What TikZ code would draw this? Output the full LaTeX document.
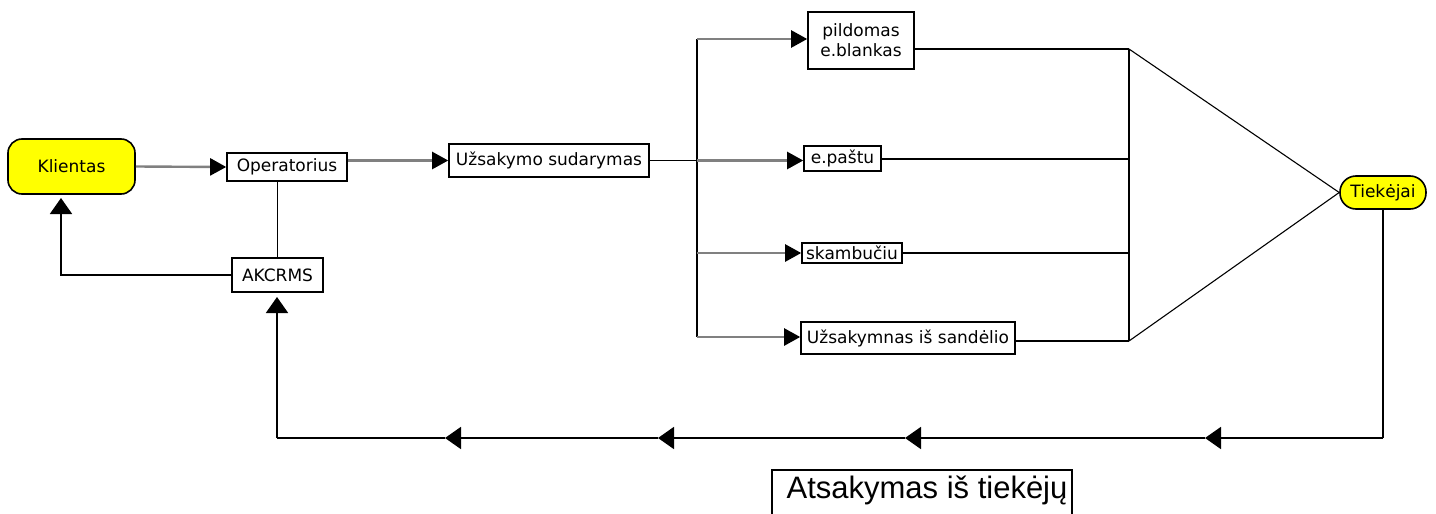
\documentclass[tikz,border=0pt]{standalone}
\usepackage{fontspec}
\setmainfont{DejaVu Sans}
\newfontfamily\titlefont{Liberation Sans}
\usetikzlibrary{arrows.meta}
\definecolor{boxyellow}{RGB}{255,255,0}
\definecolor{linegray}{RGB}{128,128,128}
\tikzset{
  box/.style={draw=black, line width=1.6pt, fill=white, inner sep=0pt,
              font=\fontsize{17}{20}\selectfont, align=center},
  actor/.style={box, fill=boxyellow},
  wire/.style={draw=black, line width=1.8pt},
  feed/.style={draw=linegray, line width=2.4pt},
  tipR/.style={-{Triangle[length=16pt,width=17pt,color=black,fill=black]}},
  tipV/.style={-{Triangle[length=16pt,width=22pt,color=black,fill=black]}},
  fan/.style={draw=black, line width=1.1pt},
}
\begin{document}
\begin{tikzpicture}[x=1pt,y=-1pt]
\useasboundingbox (0,0) rectangle (1436,514);

% participants and steps
\node[actor, rounded corners=14pt, minimum width=127pt, minimum height=55pt] (kl) at (71.5,166.5) {Klientas};
\node[box, minimum width=120pt, minimum height=28pt] (op) at (287,167) {Operatorius};
\node[box, minimum width=91pt, minimum height=34pt] (ak) at (277.5,275) {AKCRMS};
\node[box, minimum width=200pt, minimum height=33pt] (us) at (549,160.5) {Užsakymo sudarymas};
\node[box, minimum width=106pt, minimum height=57pt, font=\fontsize{17}{20}\selectfont] (pb) at (861,40.5) {pildomas\\e.blankas};
\node[box, minimum width=77pt, minimum height=25pt] (ep) at (842.5,158.5) {e.paštu};
\node[box, minimum width=100pt, minimum height=20pt] (sk) at (852,253) {skambučiu};
\node[box, minimum width=214pt, minimum height=32pt] (sa) at (908,338) {Užsakymnas iš sandėlio};
\node[actor, rounded corners=16pt, minimum width=86pt, minimum height=33pt] (tk) at (1383,192.5) {Tiekėjai};

% caption box, open at the lower edge of the page
\draw[line width=1.6pt] (772,530) -- (772,470) -- (1072,470) -- (1072,530);
\node[anchor=base, inner sep=0pt, font=\titlefont\fontsize{31}{36}\selectfont] (ats) at (927,498) {Atsakymas iš tiekėjų};

% client side
\draw[feed, tipR] (kl.east) -- (op.west);
\draw[wire] (op.south -| ak.north) -- (ak.north);
\coordinate (kup) at (61,198);
\draw[wire, tipV] (ak.west) -| (kup);
\draw[feed, tipR] (us.west -| op.east) -- (us.west);

% distribution bus
\coordinate (bt) at (697,39);
\coordinate (bm) at (697,160.5);
\coordinate (bs) at (697,253);
\coordinate (bb) at (697,337);
\draw[wire] (us.east) -- (bm);
\draw[wire] (bt) -- (bb);
\draw[feed, tipR] (bt) -- (bt -| pb.west);
\draw[feed, tipR] (bm) -- (bm -| ep.west);
\draw[feed, tipR] (bs) -- (sk.west);
\draw[feed, tipR] (bb) -- (bb -| sa.west);

% collector towards suppliers
\coordinate (ct) at (1129,49);
\coordinate (cm) at (1129,159);
\coordinate (cs) at (1129,253);
\coordinate (cb) at (1129,341);
\draw[wire] (pb.east |- ct) -- (ct);
\draw[wire] (ep.east |- cm) -- (cm);
\draw[wire] (sk.east) -- (cs);
\draw[wire] (sa.east |- cb) -- (cb);
\draw[wire] (ct) -- (cb);
\draw[fan] (ct) -- (tk.west);
\draw[fan] (cb) -- (tk.west);

% reply path
\coordinate (rc) at (1383,438);
\coordinate (r4) at (1205,438);
\coordinate (r3) at (905,438);
\coordinate (r2) at (658,438);
\coordinate (r1) at (445,438);
\coordinate (lc) at (277,438);
\coordinate (aup) at (277,297);
\draw[wire] (tk.south) -- (rc);
\draw[wire, tipV] (rc) -- (r4);
\draw[wire, tipV] (r4) -- (r3);
\draw[wire, tipV] (r3) -- (r2);
\draw[wire, tipV] (r2) -- (r1);
\draw[wire] (r1) -- (lc);
\draw[wire, tipV] (lc) -- (aup);
\end{tikzpicture}
\end{document}
